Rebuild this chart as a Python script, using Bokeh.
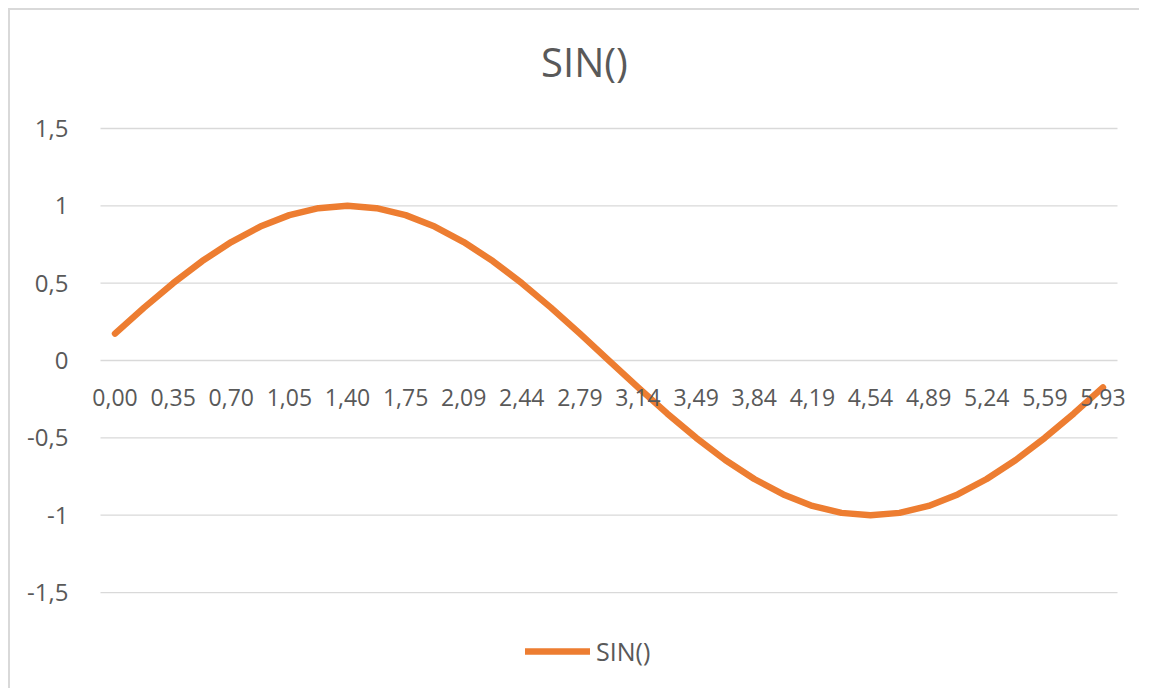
from bokeh.plotting import figure
from bokeh.models import (Range1d, FixedTicker, CustomJSTickFormatter,
                          Legend, LegendItem, ColumnDataSource)
from bokeh.core.properties import value
from bokeh.embed import file_html
from bokeh.resources import INLINE

categories = ["0,00", "0,17", "0,35", "0,52", "0,70", "0,87", "1,05", "1,22", "1,40",
              "1,57", "1,75", "1,92", "2,09", "2,27", "2,44", "2,62", "2,79", "2,97",
              "3,14", "3,32", "3,49", "3,67", "3,84", "4,01", "4,19", "4,36", "4,54",
              "4,71", "4,89", "5,06", "5,24", "5,41", "5,59", "5,76", "5,93"]
sin_values = [0.174, 0.342, 0.500, 0.643, 0.766, 0.866, 0.940, 0.985, 1.000,
              0.985, 0.940, 0.866, 0.766, 0.643, 0.500, 0.342, 0.174, 0.000,
              -0.174, -0.342, -0.500, -0.643, -0.766, -0.866, -0.940, -0.985, -1.000,
              -0.985, -0.940, -0.866, -0.766, -0.643, -0.500, -0.342, -0.174]
y_ticks = [-1.5, -1.0, -0.5, 0.0, 0.5, 1.0, 1.5]
series_name = "SIN()"
title_text = "SIN()"

FONT = "Open Sans"
TXT = "#595959"
ORANGE = "#ED7D31"
GRID = "#d9d9d9"

n = len(categories)
idx = list(range(n))

p = figure(width=1131, height=680, output_backend="svg", toolbar_location=None,
           x_range=Range1d(-1.016, n + 0.12),
           y_range=Range1d(-2.101, 2.2306),
           min_border_left=75, min_border_right=6, min_border_top=5, min_border_bottom=5)
p.styles = {"margin-left": "8px", "margin-top": "8px",
            "border-left": "2px solid #d9d9d9", "border-top": "2px solid #d9d9d9"}
p.outline_line_color = None
p.background_fill_color = "white"
p.border_fill_color = "white"

p.xaxis.visible = False
p.xgrid.grid_line_color = None
p.ygrid.grid_line_color = None

p.yaxis.ticker = FixedTicker(ticks=y_ticks)
p.yaxis.formatter = CustomJSTickFormatter(code="return tick.toString().replace('.', ',');")
p.yaxis.axis_line_color = None
p.yaxis.major_tick_line_color = None
p.yaxis.minor_tick_line_color = None
p.yaxis.major_label_standoff = 11
p.yaxis.major_label_text_font = FONT
p.yaxis.major_label_text_font_size = "24px"
p.yaxis.major_label_text_color = TXT

# chart title, centred over the chart area
p.text(x=[(n - 1) / 2], y=[max(y_ticks)], text=[title_text], x_offset=-24.5, y_offset=-67,
       text_font=value(FONT), text_font_size="40px", text_color=TXT,
       text_align="center", text_baseline="middle")

# horizontal gridlines spanning the category band only
p.segment(x0=[-0.5] * len(y_ticks), x1=[n - 0.5] * len(y_ticks), y0=y_ticks, y1=y_ticks,
          line_color=GRID, line_width=1.3)

src = ColumnDataSource(dict(x=idx, y=sin_values))
line = p.line("x", "y", source=src, line_color=ORANGE, line_width=6.5,
              line_cap="round", line_join="round")

lab_src = ColumnDataSource(dict(x=idx[::2], y=[0.0] * len(idx[::2]), t=categories[::2]))
p.text("x", "y", text="t", source=lab_src, text_font=value(FONT), text_font_size="23px",
       text_color=TXT, text_align="center", text_baseline="middle", y_offset=37)

legend = Legend(items=[LegendItem(label=series_name, renderers=[line])],
                location=(440, 17), orientation="horizontal",
                glyph_width=65, glyph_height=20, label_standoff=6, padding=0, spacing=0,
                border_line_color=None, background_fill_alpha=0,
                label_text_font=FONT, label_text_font_size="25px", label_text_color=TXT)
p.add_layout(legend, "center")

open("out.html", "w").write(file_html(p, INLINE))
